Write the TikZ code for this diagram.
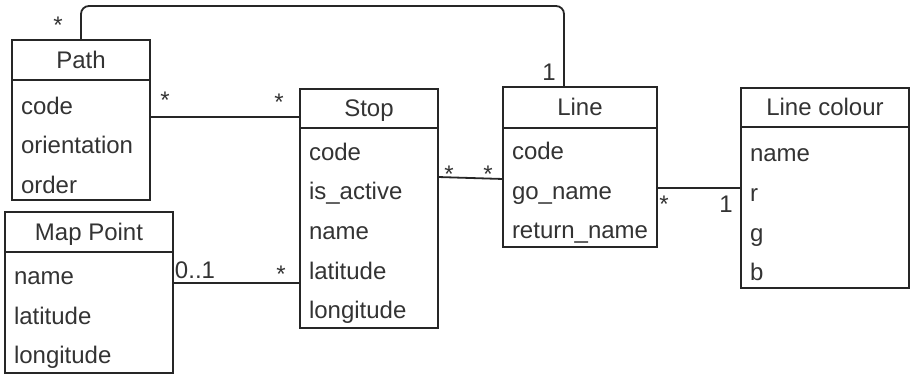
\documentclass[tikz,border=0pt]{standalone}
\usepackage{fontspec}
\setmainfont{Liberation Sans}
\usetikzlibrary{positioning}
\newcommand{\boxcol}{black!85}
\newcommand{\txtcol}{black!80}
\tikzset{
  classhead/.style={draw=\boxcol, line width=0.9pt, anchor=north west, inner sep=0pt, outer sep=0pt,
    minimum height=20pt, text height=8.4pt, text depth=0pt, text=\txtcol},
  classbody/.style={draw=\boxcol, line width=0.9pt, align=left, inner xsep=4.5pt, inner ysep=0pt,
    outer sep=0pt, text=\txtcol, execute at begin node={\rule{0pt}{14pt}}},
  assoc/.style={draw=\boxcol, line width=0.9pt},
  mult/.style={anchor=base, inner sep=0pt, text=\txtcol}
}

\begin{document}
\begin{tikzpicture}[x=0.5pt, y=-0.5pt, font=\fontsize{12}{19.8}\selectfont]
  \useasboundingbox (0,0) rectangle (910,374);

  % classes
  \node[classhead, minimum width=69pt] (path) at (12,40) {Path};
  \node[classbody, below=0pt of path, text width=60pt, minimum height=60pt] (pathb)
    {code\\orientation\\order};

  \node[classhead, minimum width=84pt] (map) at (5,212) {Map Point};
  \node[classbody, below=0pt of map, text width=75pt, minimum height=60.5pt] (mapb)
    {name\\latitude\\longitude};

  \node[classhead, minimum width=69pt, minimum height=19.5pt] (stop) at (300,89) {Stop};
  \node[classbody, below=0pt of stop, text width=60pt, minimum height=100pt] (stopb)
    {code\\is\_active\\name\\latitude\\longitude};

  \node[classhead, minimum width=77pt, minimum height=20.5pt] (line) at (503,87) {Line};
  \node[classbody, below=0pt of line, text width=68pt, minimum height=59.5pt] (lineb)
    {code\\go\_name\\return\_name};

  \node[classhead, minimum width=84pt, minimum height=19.5pt] (colour) at (741,88) {Line colour};
  \node[classbody, below=0pt of colour, text width=75pt, minimum height=80.5pt] (colourb)
    {name\\r\\g\\b};

  % associations
  \draw[assoc, rounded corners=4pt] (path.north) |- (564,6) -- ([xshift=-8pt]line.north);
  \draw[assoc] (pathb.east |- 0,117) -- (stop.west |- 0,117);
  \draw[assoc] (stopb.east |- 0,177) -- (lineb.west |- 0,179);
  \draw[assoc] (lineb.east |- 0,188) -- (colourb.west |- 0,188);
  \draw[assoc] (mapb.east |- 0,283) -- (stopb.west |- 0,283);

  % multiplicities
  \node[mult] (mpl) at (58,34) {*};
  \node[mult] (mln) at (549,81) {1};
  \node[mult] (mps) at (165,109) {*};
  \node[mult] (msp) at (279,111) {*};
  \node[mult] (msl) at (449,182) {*};
  \node[mult] (mls) at (488,182) {*};
  \node[mult] (mlc) at (664,213) {*};
  \node[mult] (mcl) at (726,213) {1};
  \node[mult] (mmp) at (195,278) {0..1};
  \node[mult] (mpm) at (281,282) {*};
\end{tikzpicture}
\end{document}
